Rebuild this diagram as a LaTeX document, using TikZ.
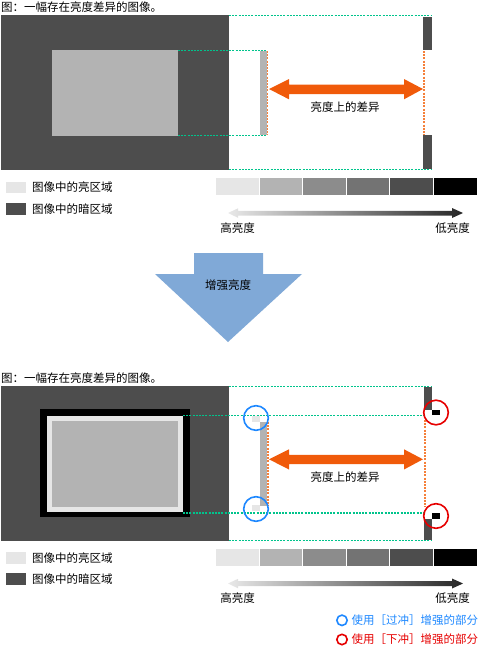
\documentclass[tikz,border=0pt]{standalone}
\usepackage{fontspec}
\setmainfont{Noto Sans CJK SC}
\definecolor{drk}{HTML}{4D4D4D}
\definecolor{mgr}{HTML}{B3B3B3}
\definecolor{lgr}{HTML}{E6E6E6}
\definecolor{grn}{HTML}{00C48C}
\definecolor{orl}{HTML}{F5803A}
\definecolor{ora}{HTML}{F05A0A}
\definecolor{bla}{HTML}{80A9D7}
\definecolor{ovb}{HTML}{1E88FF}
\definecolor{ovr}{HTML}{E60000}
\definecolor{sg3}{HTML}{8C8C8C}
\definecolor{sg4}{HTML}{737373}
\begin{document}
\begin{tikzpicture}[x=1pt,y=-1pt,
  gdot/.style={draw=grn, line width=1.1pt, dash pattern=on 2pt off 1.2pt},
  odot/.style={draw=orl, line width=1.1pt, dash pattern=on 2pt off 1.2pt},
  lbl/.style={font=\fontsize{11.5}{13}\selectfont, inner sep=0pt},
  bcirc/.style={draw=ovb, line width=1.6pt},
  rcirc/.style={draw=ovr, line width=1.6pt}]
\useasboundingbox (0,0) rectangle (482,646);

% ---------- top section ----------
\node[lbl, anchor=west] (t1) at (1,7.5) {图：一幅存在亮度差异的图像。};
\fill[drk] (1,15) rectangle (229,169.5);
\fill[mgr] (52,50) rectangle (178,135.5);
\draw[gdot] (229,15.5) -- (432,15.5);
\draw[gdot] (229,169.5) -- (432,169.5);
\draw[gdot] (178,50.5) -- (267,50.5);
\draw[gdot] (178,135.5) -- (267,135.5);
\fill[mgr] (260,51) rectangle (267,135);
\draw[odot] (267.8,51) -- (267.8,135);
\draw[odot] (424,51) -- (424,135);
\fill[drk] (423,16.5) rectangle (432,50);
\fill[drk] (423,135) rectangle (432,169);
\fill[ora] (269,89) -- (289,79) -- (289,84.5) -- (404,84.5) -- (404,79) -- (423,89)
  -- (404,99.3) -- (404,94) -- (289,94) -- (289,99.3) -- cycle;
\node[lbl] (d1) at (345,107) {亮度上的差异};

% legend top
\fill[lgr] (6,181.7) rectangle (26,193.3);
\node[lbl, anchor=west] (l1) at (32,187.5) {图像中的亮区域};
\fill[drk] (6,203.3) rectangle (26,215);
\node[lbl, anchor=west] (l2) at (32,209) {图像中的暗区域};
\fill[lgr] (216,178.3) rectangle (259,195);
\fill[mgr] (259,178.3) rectangle (302,195);
\fill[sg3] (302,178.3) rectangle (346,195);
\fill[sg4] (346,178.3) rectangle (389,195);
\fill[drk] (389,178.3) rectangle (433,195);
\fill[black] (433,178.3) rectangle (477,195);
\foreach \xx in {259,302,346,389,433} \draw[white, line width=0.8pt] (\xx,178.3) -- (\xx,195);
\shade[left color=lgr!90!white, right color=black!85] (228,213) -- (238,208.3) -- (238,210.8) -- (452,210.8) -- (452,208) -- (463,213)
  -- (452,218) -- (452,215.5) -- (238,215.5) -- (238,217.8) -- cycle;
\node[lbl] (h1) at (237.5,228) {高亮度};
\node[lbl] (w1) at (452.5,228) {低亮度};

% ---------- middle arrow ----------
\fill[bla] (194,253) -- (263,253) -- (263,274) -- (302,274) -- (228,342) -- (155,274) -- (194,274) -- cycle;
\node[lbl] (m) at (228,285) {增强亮度};

% ---------- bottom section ----------
\node[lbl, anchor=west] (t2) at (1,378) {图：一幅存在亮度差异的图像。};
\fill[drk] (1,386) rectangle (229,541);
\fill[black] (40,409) rectangle (190,517);
\fill[lgr] (47,416) rectangle (183,512);
\fill[mgr] (52,421) rectangle (178,507);
\draw[gdot] (229,386.5) -- (432,386.5);
\draw[gdot] (229,540.5) -- (432,540.5);
\draw[gdot] (183,415.5) -- (425,415.5);
\draw[gdot] (183,513) -- (425,513);
\fill[mgr] (260,422) rectangle (267,506);
\fill[lgr] (252,416) rectangle (260,422);
\fill[lgr] (252,505) rectangle (260,511);
\draw[odot] (268,422) -- (268,506);
\draw[odot] (425,420) -- (425,507);
\fill[drk] (424,387) rectangle (432,410);
\fill[drk] (424,519) rectangle (432,540);
\fill[black] (432,410) rectangle (440,414.5);
\fill[black] (432,513) rectangle (440,519);
\draw[bcirc] (256,418) circle[radius=12.3];
\draw[bcirc] (256,509) circle[radius=12.3];
\draw[rcirc] (436,412.5) circle[radius=12.3];
\draw[rcirc] (436,516) circle[radius=12.3];
\fill[ora] (269,459.3) -- (289,449.3) -- (289,454.8) -- (404,454.8) -- (404,449.3) -- (423,459.3)
  -- (404,469.5) -- (404,464.2) -- (289,464.2) -- (289,469.5) -- cycle;
\node[lbl] (d2) at (345,477) {亮度上的差异};

% legend bottom
\fill[lgr] (6,551.7) rectangle (26,564);
\node[lbl, anchor=west] (l3) at (32,558) {图像中的亮区域};
\fill[drk] (6,573.3) rectangle (26,585);
\node[lbl, anchor=west] (l4) at (32,579) {图像中的暗区域};
\fill[lgr] (216,549.3) rectangle (259,565.7);
\fill[mgr] (259,549.3) rectangle (302,565.7);
\fill[sg3] (302,549.3) rectangle (346,565.7);
\fill[sg4] (346,549.3) rectangle (389,565.7);
\fill[drk] (389,549.3) rectangle (433,565.7);
\fill[black] (433,549.3) rectangle (477,565.7);
\foreach \xx in {259,302,346,389,433} \draw[white, line width=0.8pt] (\xx,549.3) -- (\xx,565.7);
\shade[left color=lgr!90!white, right color=black!85] (228,583.5) -- (238,578.8) -- (238,581.2) -- (452,581.2) -- (452,578.5) -- (463,583.5)
  -- (452,588.5) -- (452,586) -- (238,586) -- (238,588.3) -- cycle;
\node[lbl] (h2) at (237.5,598.5) {高亮度};
\node[lbl] (w2) at (452.5,598.5) {低亮度};

\draw[bcirc] (342,620.3) circle[radius=5.2];
\node[lbl, anchor=west, text=ovb] (k1) at (351.5,620.5) {使用［过冲］增强的部分};
\draw[rcirc] (342,639.5) circle[radius=5.2];
\node[lbl, anchor=west, text=ovr] (k2) at (351.5,639.5) {使用［下冲］增强的部分};
\end{tikzpicture}
\end{document}
